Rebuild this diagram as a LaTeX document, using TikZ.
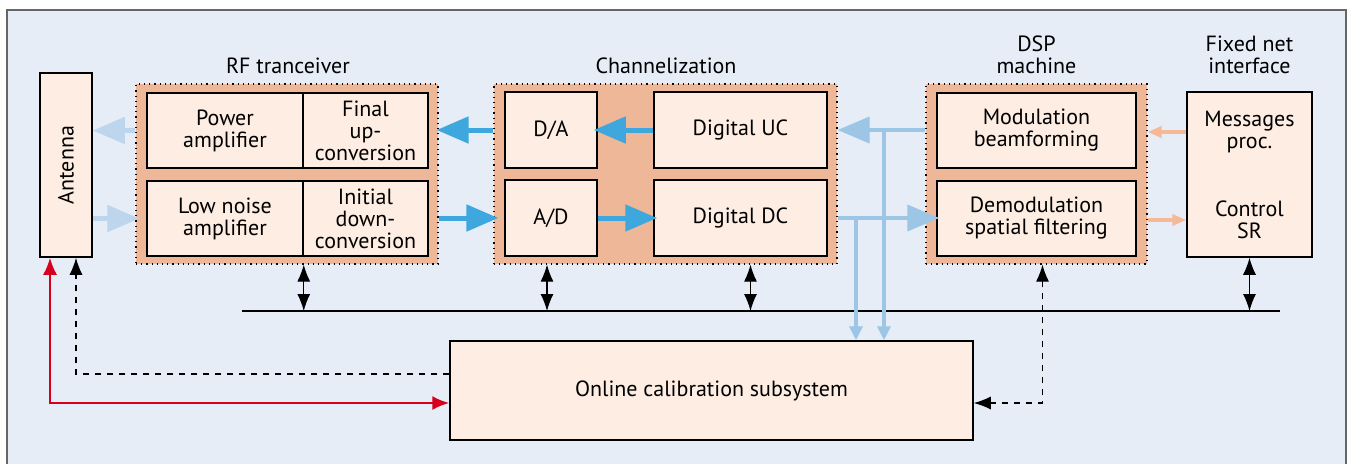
\documentclass[tikz,border=0pt]{standalone}
\usepackage{fontspec}
\setmainfont{PT Sans}
\usetikzlibrary{arrows.meta}
\definecolor{bgblue}{HTML}{E6EDF7}
\definecolor{salmon}{HTML}{EEB797}
\definecolor{cream}{HTML}{FDEDE2}
\definecolor{midblue}{HTML}{3EA8DE}
\definecolor{dspblue}{HTML}{9CC5E6}
\definecolor{paleblue}{HTML}{BDD6EE}
\definecolor{peach}{HTML}{F5B995}
\definecolor{sigred}{HTML}{D6001C}
\begin{document}
\begin{tikzpicture}[x=0.5pt,y=-0.5pt,
	every node/.style={align=center,font=\fontsize{11}{11}\selectfont,inner sep=0pt},
	blk/.style={draw,line width=0.75pt,fill=cream},
	grp/.style={draw,dotted,line width=0.6pt,fill=salmon},
	fat/.style={line width=2.5pt,-{Triangle[length=16pt,width=13pt]}},
	thin/.style={line width=2pt,-{Triangle[length=7pt,width=5.5pt]}},
	bus/.style={line width=0.6pt,{Latex[length=8.5pt,width=6.5pt]}-{Latex[length=8.5pt,width=6.5pt]}}]
	\useasboundingbox(0,0)rectangle(1351,463);
	\draw[fill=bgblue,draw=black!60,line width=0.8pt](7,10)rectangle(1346,480);
	
	\node[blk,minimum width=26pt,minimum height=92pt](ant)at(66,165){\rotatebox{90}{Antenna}};
	
	\node[grp,minimum width=151pt,minimum height=90pt](rf)at(287,174){};
	\node[grp,minimum width=171.5pt,minimum height=90pt](ch)at(665.5,174){};
	\node[grp,minimum width=110.5pt,minimum height=90pt](dsp)at(1036.5,174){};
	\node at(288,66){RF tranceiver};
	\node at(666,66){Channelization};
	\node at(1036.5,55){DSP\\machine};
	\node at(1249.5,55){Fixed net\\interface};
	
	\node[blk,minimum width=78pt,minimum height=37.5pt](pa)at(225,130.5){Power\\amplifier};
	\node[blk,minimum width=62.5pt,minimum height=37.5pt](up)at(365.5,130.5){Final\\up-\\conversion};
	\node[blk,minimum width=78pt,minimum height=37.5pt](ln)at(225,218.5){Low noise\\amplifier};
	\node[blk,minimum width=62.5pt,minimum height=37.5pt](dn)at(365.5,218.5){Initial\\down-\\conversion};
	
	\node[blk,minimum width=46pt,minimum height=38pt](da)at(551,130){D/A};
	\node[blk,minimum width=46pt,minimum height=38pt](ad)at(551,218){A/D};
	\node[blk,minimum width=86.5pt,minimum height=38pt](uc)at(740.5,130){Digital UC};
	\node[blk,minimum width=86.5pt,minimum height=38pt](dc)at(740.5,218){Digital DC};
	
	\node[blk,minimum width=99.5pt,minimum height=37.5pt](mod)at(1036.5,130.5){Modulation\\beamforming};
	\node[blk,minimum width=99.5pt,minimum height=37.5pt](dem)at(1036.5,218.5){Demodulation\\spatial filtering};
	
	\node[blk,minimum width=62.5pt,minimum height=82.5pt](fn)at(1249.5,174.5){};
	\node(msg)at(1249.5,132){Messages\\proc.};
	\node(ctl)at(1249.5,220){Control\\SR};
	
	\node[blk,minimum width=261.5pt,minimum height=49.5pt](cal)at(711.5,390.5){Online calibration subsystem};
	
	\coordinate(busL)at(242,311);
	\coordinate(busR)at(1280,311);
	\coordinate(upj)at(884,130);
	\coordinate(dnj)at(856,218);
	\draw[line width=0.6pt](busL)--(busR);
	
	\draw[fat,paleblue](rf.west|-pa.center)--(ant.east|-pa.center);
	\draw[fat,paleblue](ant.east|-ln.center)--([xshift=2pt]rf.west|-ln.center);
	\draw[fat,midblue](ch.west|-da.center)--([xshift=-1pt]rf.east|-da.center);
	\draw[fat,midblue](rf.east|-ad.center)--([xshift=2.5pt]ch.west|-ad.center);
	\draw[fat,midblue](uc.west)--([xshift=-2pt]da.east);
	\draw[fat,midblue](ad.east)--([xshift=2pt]dc.west);
	\draw[fat,dspblue,line width=2pt](dsp.west|-uc.center)--(ch.east|-uc.center);
	\draw[fat,dspblue,line width=2pt](ch.east|-dc.center)--([xshift=1.5pt]dem.west|-dc.center);
	\foreach \j in{upj,dnj}
	\draw[line width=2pt,dspblue,-{Triangle[length=7pt,width=6.5pt]}](\j)--(\j|-cal.north);
	\draw[thin,peach](fn.west|-msg)--(dsp.east|-msg);
	\draw[thin,peach](dsp.east|-ctl)--(fn.west|-ctl);
	
	\draw[bus](pa.east|-rf.south)--(pa.east|-busL);
	\draw[bus]([xshift=-2pt]da.center|-ch.south)--([xshift=-2pt]da.center|-busL);
	\draw[bus]([xshift=5pt]dc.center|-ch.south)--([xshift=5pt]dc.center|-busL);
	\draw[bus](fn.south)--(fn|-busL);
	
	\draw[line width=0.6pt,dashed,-{Latex[length=8.5pt,width=6.5pt]}]([yshift=8.25pt]cal.west)-|([xshift=5pt]ant.south);
	\draw[line width=0.6pt,dashed,{Latex[length=8.5pt,width=6.5pt]}-{Latex[length=8.5pt,width=6.5pt]}]([yshift=-6.25pt]cal.east)-|([xshift=3pt]dsp.south);
	\draw[line width=1pt,sigred,{Latex[length=8.5pt,width=7pt]}-{Latex[length=8.5pt,width=7pt]}]([xshift=-8pt]ant.south)|-([yshift=-6.25pt]cal.west);
\end{tikzpicture}
\end{document}
